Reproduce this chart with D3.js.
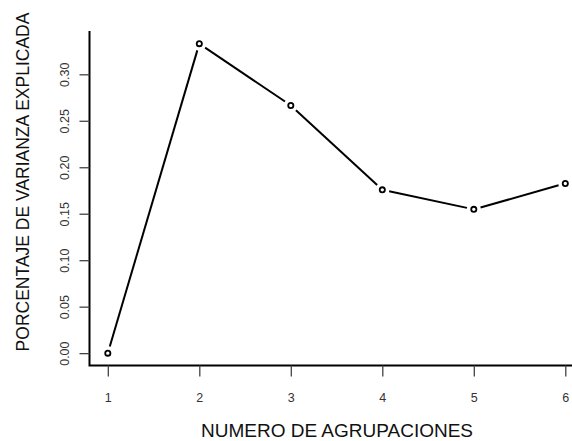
<!DOCTYPE html>
<html>
<head>
<meta charset="utf-8">
<script src="https://cdn.jsdelivr.net/npm/d3@7"></script>
<style>
  html, body { margin: 0; padding: 0; background: #fff; }
  svg { display: block; }
  text { font-family: "Liberation Sans", Arial, sans-serif; }
</style>
</head>
<body>
<svg id="chart" width="572" height="441"></svg>
<script>
// Number of groupings and the share of variance explained by each
const groupings = [1, 2, 3, 4, 5, 6];
const varianceExplained = [0.000, 0.333, 0.2665, 0.1757, 0.1547, 0.1826];
const yTicks = [0.00, 0.05, 0.10, 0.15, 0.20, 0.25, 0.30];
const xTicks = [1, 2, 3, 4, 5, 6];
const xTitle = "NUMERO DE AGRUPACIONES";
const yTitle = "PORCENTAJE DE VARIANZA EXPLICADA";

const svg = d3.select("#chart");

const plotLeft = 89.5, plotBottom = 365.5, plotTop = 31;
const x = d3.scaleLinear().domain([0.8, 6.2]).range([plotLeft, plotLeft + 5.4 * 91.5]);
const y = d3.scaleLinear().domain([-0.0133, 0.3466]).range([plotBottom, plotTop]);

// L-shaped frame
svg.append("path")
  .attr("d", `M${plotLeft},${plotTop}V${plotBottom}H572`)
  .attr("fill", "none").attr("stroke", "#000").attr("stroke-width", 2);

// Y axis
const yAxis = svg.append("g").attr("transform", `translate(${plotLeft},0)`)
  .call(d3.axisLeft(y).tickValues(yTicks).tickFormat(d3.format(".2f")).tickSize(10).tickPadding(0));
yAxis.select(".domain").remove();
yAxis.selectAll(".tick line").attr("stroke", "#444").attr("stroke-width", 1.3);
yAxis.selectAll(".tick text")
  .attr("font-size", 12.5).attr("fill", "#333")
  .attr("text-anchor", "middle")
  .attr("transform", "translate(-25,0) rotate(-90)")
  .attr("x", 0).attr("dy", "0.35em");

// X axis
const xAxis = svg.append("g").attr("transform", `translate(0,${plotBottom})`)
  .call(d3.axisBottom(x).tickValues(xTicks).tickFormat(d3.format("d")).tickSize(11));
xAxis.select(".domain").remove();
xAxis.selectAll(".tick line").attr("stroke", "#444").attr("stroke-width", 1.3);
xAxis.selectAll(".tick text").attr("font-size", 12.5).attr("fill", "#333")
  .attr("y", 36).attr("dy", 0);

// Axis titles
svg.append("text")
  .attr("x", 337).attr("y", 436.5)
  .attr("text-anchor", "middle").attr("font-size", 19).attr("fill", "#111")
  .text(xTitle);
svg.append("text")
  .attr("transform", "translate(29,182) rotate(-90)")
  .attr("text-anchor", "middle").attr("font-size", 17.5).attr("fill", "#111")
  .text(yTitle);

// Line segments with gaps around each point
const pts = groupings.map((g, i) => [x(g), y(varianceExplained[i])]);
const gap = 7;
const segs = [];
for (let i = 0; i < pts.length - 1; i++) {
  const [x0, y0] = pts[i], [x1, y1] = pts[i + 1];
  const dx = x1 - x0, dy = y1 - y0, len = Math.hypot(dx, dy);
  const ux = dx / len, uy = dy / len;
  segs.push([[x0 + ux * gap, y0 + uy * gap], [x1 - ux * gap, y1 - uy * gap]]);
}
svg.append("g").selectAll("line").data(segs).join("line")
  .attr("x1", d => d[0][0]).attr("y1", d => d[0][1])
  .attr("x2", d => d[1][0]).attr("y2", d => d[1][1])
  .attr("stroke", "#000").attr("stroke-width", 2);

// Open circle markers
svg.append("g").selectAll("circle").data(groupings).join("circle")
  .attr("cx", d => x(d))
  .attr("cy", (d, i) => y(varianceExplained[i]))
  .attr("r", 2.6)
  .attr("fill", "none").attr("stroke", "#000").attr("stroke-width", 1.8);
</script>
</body>
</html>
